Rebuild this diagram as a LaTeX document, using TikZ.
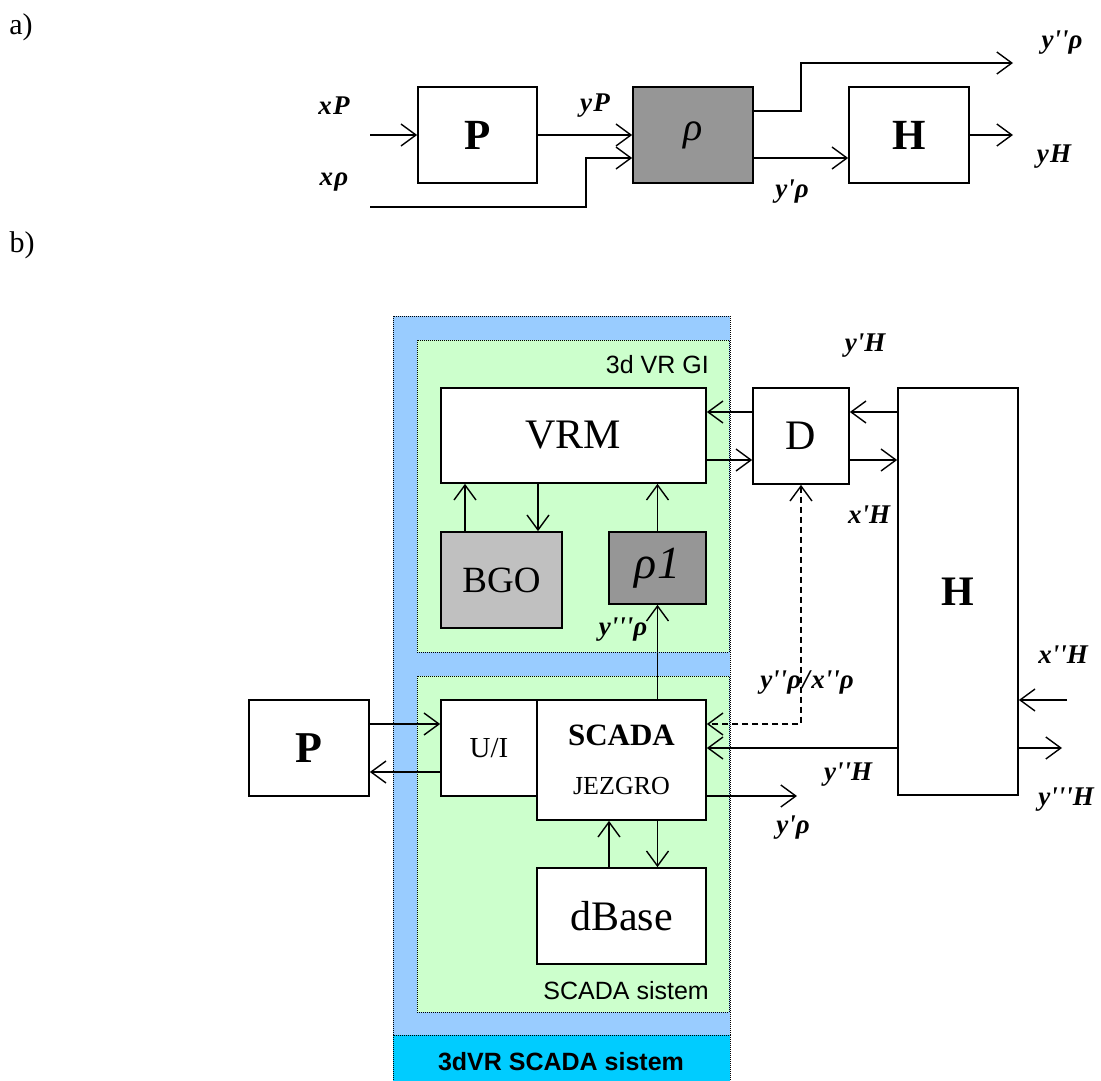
\documentclass[tikz,border=0pt]{standalone}
\usepackage{fontspec}
\setmainfont{Liberation Serif}
\newfontfamily\sansf{Liberation Sans}
\newfontfamily\labf{Liberation Serif}[LetterSpace=5.0]
\usetikzlibrary{arrows.meta}
\newcommand{\myq}{\textquotesingle}
\definecolor{dgray}{HTML}{969696}
\definecolor{lgray}{HTML}{C0C0C0}
\definecolor{blueA}{HTML}{99CCFF}
\definecolor{greenA}{HTML}{CCFFCC}
\definecolor{cyanA}{HTML}{00CCFF}
\begin{document}
\begin{tikzpicture}[x=1pt,y=-1pt,
  box/.style={draw=black,line width=1.7pt,fill=white,inner sep=0pt,anchor=center},
  arr/.style={line width=1.4pt,-{Straight Barb[length=15pt,width=22pt,line width=1.4pt]}},
  arrboth/.style={line width=1.4pt,{Straight Barb[length=15pt,width=22pt,line width=1.4pt]}-{Straight Barb[length=15pt,width=22pt,line width=1.4pt]}},
  dashedline/.style={dash pattern=on 6pt off 4pt},
  region/.style={draw=black,line width=1pt,dash pattern=on 1pt off 1pt},
  lab/.style={font=\labf\fontsize{27}{27}\selectfont\bfseries\itshape,inner sep=0pt},
  seclab/.style={font=\fontsize{30}{30}\selectfont,inner sep=0pt},
  reglab/.style={font=\sansf\fontsize{25}{25}\selectfont,inner sep=0pt},
  big/.style={font=\fontsize{43}{43}\selectfont\bfseries}
]
\useasboundingbox (0,0) rectangle (1101,1081);

% ---------- part a ----------
\node[seclab] (la) at (21,27) {a)};
\node[box,big,minimum width=119pt,minimum height=96pt] (Pa) at (477.5,135) {P};
\node[box,fill=dgray,font=\fontsize{40}{40}\selectfont\itshape,minimum width=120pt,minimum height=96pt] (rhoa) at (693,135) {ρ};
\node[box,big,minimum width=120pt,minimum height=96pt] (Ha) at (909,135) {H};

\coordinate (xPin) at (370,135);
\coordinate (xrin) at (370,207);
\coordinate (c1) at (586,158);
\coordinate (r1) at (801,111);
\coordinate (r2) at (801,158);
\coordinate (ypp) at (1013,63);
\coordinate (yHout) at (1013,135);

\draw[arr] (xPin) -- (Pa.west);
\draw[arr] (Pa.east) -- (rhoa.west);
\draw[arr] (xrin) -| (c1) -- (c1 -| rhoa.west);
\draw[arr] (r1 -| rhoa.east) -- (r1) |- (ypp);
\draw[arr] (r2 -| rhoa.east) -- (r2 -| Ha.west);
\draw[arr] (Ha.east) -- (yHout);

\node[lab] (lxP) at (334,106) {xP};
\node[lab] (lxr) at (334,182) {xρ};
\node[lab] (lyP) at (595,106) {yP};
\node[lab] (lypp) at (1062,43) {y\myq\myq ρ};
\node[lab] (lyp) at (792,192) {y\myq ρ};
\node[lab] (lyH) at (1054,157) {yH};

% ---------- part b ----------
\node[seclab] (lb) at (22,245) {b)};

\path[region,fill=blueA] (393,316) rectangle (730,1035);
\path[region,fill=cyanA] (393,1035) rectangle (730,1082);
\path[region,fill=greenA] (417,340) rectangle (729,652);
\path[region,fill=greenA] (417,676) rectangle (729,1012);

\node[reglab,anchor=east] (lgi) at (709,365) {3d VR GI};
\node[reglab,anchor=east] (lss) at (709,991) {SCADA sistem};
\node[reglab,font=\sansf\bfseries\fontsize{25}{25}\selectfont] (ltot) at (561,1062) {3dVR SCADA sistem};

\node[box,font=\fontsize{42}{42}\selectfont,minimum width=265pt,minimum height=95pt] (VRM) at (573.5,435.5) {VRM};
\node[box,fill=lgray,font=\fontsize{37}{37}\selectfont,minimum width=121pt,minimum height=96pt] (BGO) at (501.5,580) {BGO};
\node[box,fill=dgray,font=\fontsize{46}{46}\selectfont\itshape,minimum width=97pt,minimum height=72pt] (rho1) at (657.5,568) {ρ1};
\node[box,font=\fontsize{42}{42}\selectfont,minimum width=96pt,minimum height=96pt] (D) at (801,436) {D};
\node[box,font=\fontsize{42}{42}\selectfont\bfseries,minimum width=120pt,minimum height=407pt] (Hb) at (958,591.5) {H};
\node[box,font=\fontsize{44}{44}\selectfont\bfseries,minimum width=120pt,minimum height=96pt] (Pb) at (309,748) {P};
\node[box,font=\fontsize{29}{29}\selectfont,minimum width=96pt,minimum height=96pt] (UI) at (489,748) {U/I};
\node[box,minimum width=169pt,minimum height=120pt] (SCADA) at (621.5,760) {};
\node[inner sep=0pt,font=\fontsize{31}{31}\selectfont\bfseries] (scadaT) at (621.5,735) {SCADA};
\node[inner sep=0pt,font=\fontsize{26}{26}\selectfont] (jezT) at (621.5,786) {JEZGRO};
\node[box,font=\fontsize{42}{42}\selectfont,minimum width=169pt,minimum height=96pt] (dBase) at (621.5,916) {dBase};

\coordinate (b1) at (465,0);
\coordinate (b2) at (538,0);
\coordinate (b3) at (609,0);
\coordinate (d1) at (0,412);
\coordinate (d2) at (0,460);
\coordinate (dsh) at (801,724);
\coordinate (h1) at (0,748);
\coordinate (p1) at (0,724);
\coordinate (p2) at (0,772);
\coordinate (yHHout) at (1062,748);
\coordinate (xHHin) at (1067,700);
\coordinate (yprout) at (797,796);

\draw[arr] (b1 |- BGO.north) -- (b1 |- VRM.south);
\draw[arr] (b2 |- VRM.south) -- (b2 |- BGO.north);
\draw[arr] (rho1.north) -- (rho1.north |- VRM.south);
\draw[arr] (rho1.south |- SCADA.north) -- (rho1.south);
\draw[arr] (D.west |- d1) -- (VRM.east |- d1);
\draw[arr] (VRM.east |- d2) -- (D.west |- d2);
\draw[arr] (Hb.west |- d1) -- (D.east |- d1);
\draw[arr] (D.east |- d2) -- (Hb.west |- d2);
\draw[arrboth,dashedline] (D.south) |- (SCADA.east |- dsh);
\draw[arr] (Hb.west |- h1) -- (SCADA.east |- h1);
\draw[arr] (Hb.east |- h1) -- (yHHout);
\draw[arr] (xHHin) -- (Hb.east |- xHHin);
\draw[arr] (SCADA.east |- yprout) -- (yprout);
\draw[arr] (Pb.east |- p1) -- (UI.west |- p1);
\draw[arr] (UI.west |- p2) -- (Pb.east |- p2);
\draw[arr] (b3 |- dBase.north) -- (b3 |- SCADA.south);
\draw[arr] (rho1.south |- SCADA.south) -- (rho1.south |- dBase.north);

\node[lab] (lyH1) at (865,346) {y\myq H};
\node[lab] (lxH1) at (869,515) {x\myq H};
\node[lab] (lyx) at (807,683) {y\myq\myq ρ/x\myq\myq ρ};
\node[lab] (lyH2) at (848,775) {y\myq\myq H};
\node[lab] (lxH2) at (1063,655) {x\myq\myq H};
\node[lab] (lyH3) at (1066,800) {y\myq\myq\myq H};
\node[lab] (lyr) at (793,828) {y\myq ρ};
\node[lab] (lyr3) at (623,630) {y\myq\myq\myq ρ};
\end{tikzpicture}
\end{document}
